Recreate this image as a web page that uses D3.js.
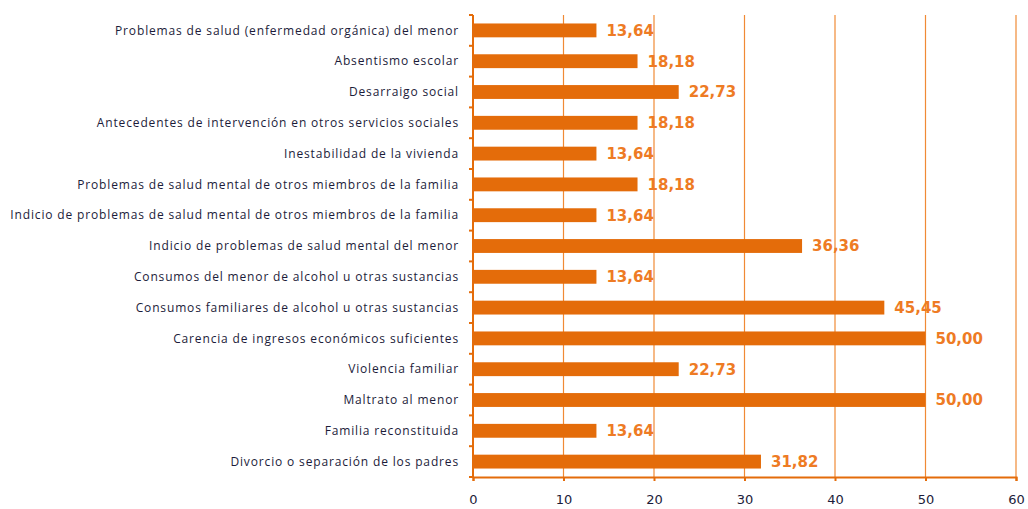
<!DOCTYPE html>
<html>
<head>
<meta charset="utf-8">
<script src="https://cdn.jsdelivr.net/npm/d3@7"></script>
<style>
  body { margin: 0; background: #fff; }
  .cat text { font-family: "Open Sans", sans-serif; font-size: 12px; letter-spacing: 0.85px; fill: #1c1c3a; }
  .xax text { font-family: "DejaVu Sans", sans-serif; font-size: 13px; fill: #1c1c3a; }
  .val { font-family: "DejaVu Sans", sans-serif; font-weight: bold; font-size: 15px; fill: #ee7b24; }
</style>
</head>
<body>
<svg width="1028" height="509"></svg>
<script>
var categories = [
    "Problemas de salud (enfermedad orgánica) del menor",
    "Absentismo escolar",
    "Desarraigo social",
    "Antecedentes de intervención en otros servicios sociales",
    "Inestabilidad de la vivienda",
    "Problemas de salud mental de otros miembros de la familia",
    "Indicio de problemas de salud mental de otros miembros de la familia",
    "Indicio de problemas de salud mental del menor",
    "Consumos del menor de alcohol u otras sustancias",
    "Consumos familiares de alcohol u otras sustancias",
    "Carencia de ingresos económicos suficientes",
    "Violencia familiar",
    "Maltrato al menor",
    "Familia reconstituida",
    "Divorcio o separación de los padres"
];
var values = [13.64, 18.18, 22.73, 18.18, 13.64, 18.18, 13.64, 36.36, 13.64, 45.45, 50.00, 22.73, 50.00, 13.64, 31.82];
var xTicks = [0, 10, 20, 30, 40, 50, 60];

var margin = {top: 15, right: 12, bottom: 32, left: 473},
    width = 1028 - margin.left - margin.right,
    height = 509 - margin.top - margin.bottom;

var orange = "#e46c0a", grid = "#f08a35";

var svg = d3.select("svg")
    .append("g")
    .attr("transform", "translate(" + margin.left + "," + margin.top + ")");

var x = d3.scaleLinear().domain([0, 60]).range([0, width]);
var y = d3.scaleBand().domain(categories).range([0, height]).paddingInner(0.55).paddingOuter(0.275);

// vertical grid
svg.selectAll(".grid")
    .data(xTicks.slice(1))
    .enter().append("line")
    .attr("x1", function(d) { return x(d); })
    .attr("x2", function(d) { return x(d); })
    .attr("y1", 0)
    .attr("y2", height)
    .attr("stroke", grid)
    .attr("stroke-width", 1.2);

// bars
svg.selectAll(".bar")
    .data(values)
    .enter().append("rect")
    .attr("x", 0)
    .attr("y", function(d, i) { return y(categories[i]); })
    .attr("width", function(d) { return x(d); })
    .attr("height", y.bandwidth())
    .attr("fill", orange);

// value labels
svg.selectAll(".val")
    .data(values)
    .enter().append("text")
    .attr("class", "val")
    .attr("x", function(d) { return x(d) + 10; })
    .attr("y", function(d, i) { return y(categories[i]) + y.bandwidth() / 2; })
    .attr("dy", "0.36em")
    .text(function(d) { return d.toFixed(2).replace(".", ","); });

// y axis (category) with ticks at band edges
var step = y.step();
var yAxis = svg.append("g").attr("class", "cat");
yAxis.append("line")
    .attr("x1", 0).attr("x2", 0).attr("y1", 0).attr("y2", height)
    .attr("stroke", orange).attr("stroke-width", 2);
yAxis.selectAll(".tk")
    .data(d3.range(categories.length + 1))
    .enter().append("line")
    .attr("x1", -4).attr("x2", 0)
    .attr("y1", function(i) { return i * step; })
    .attr("y2", function(i) { return i * step; })
    .attr("stroke", orange).attr("stroke-width", 2);
yAxis.selectAll("text")
    .data(categories)
    .enter().append("text")
    .attr("x", -14)
    .attr("y", function(d) { return y(d) + y.bandwidth() / 2; })
    .attr("dy", "0.35em")
    .attr("text-anchor", "end")
    .text(function(d) { return d; });

// x axis
var xAxis = svg.append("g")
    .attr("class", "xax")
    .attr("transform", "translate(0," + height + ")")
    .call(d3.axisBottom(x).tickValues(xTicks).tickSize(4).tickPadding(14));
xAxis.select(".domain").attr("stroke", orange).attr("stroke-width", 2);
xAxis.selectAll(".tick line").attr("stroke", orange).attr("stroke-width", 2);
</script>
</body>
</html>
